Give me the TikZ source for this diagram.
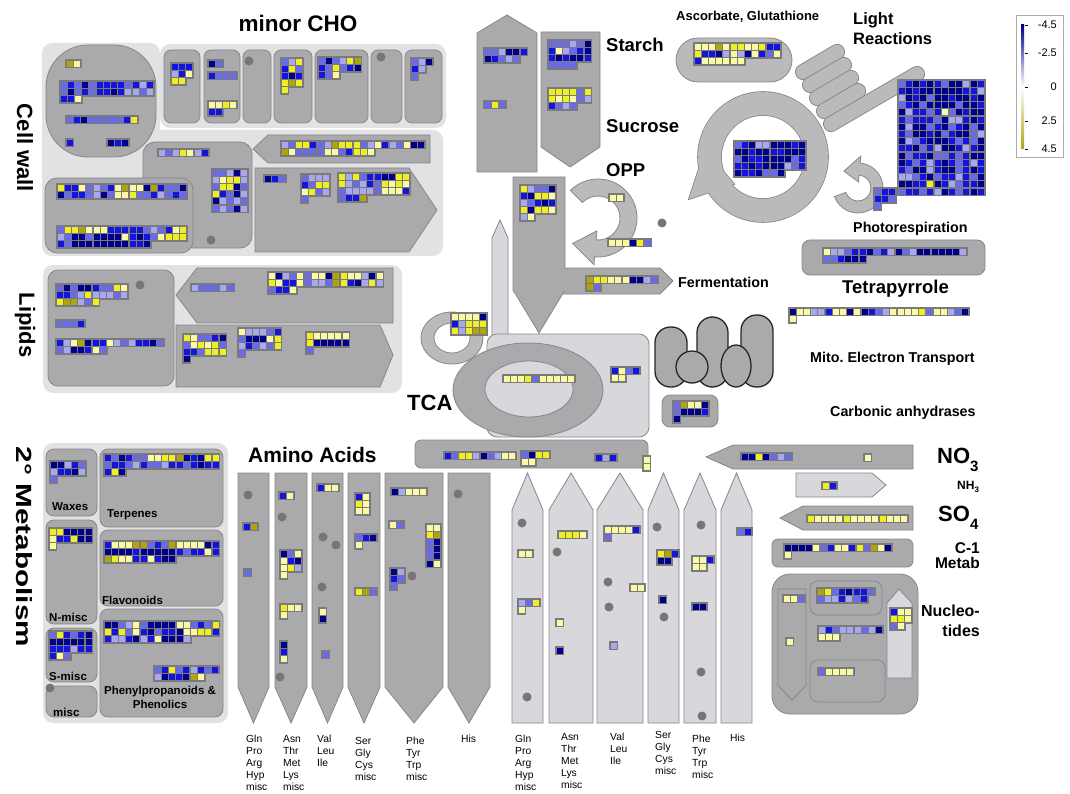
\documentclass[tikz,border=0pt]{standalone}
\usepackage{fontspec}
\setmainfont{Liberation Sans}
\usepackage{graphicx}
\usetikzlibrary{calc}

\definecolor{boxgray}{RGB}{170,170,172}
\definecolor{edgegray}{RGB}{135,135,138}
\definecolor{panelgray}{RGB}{226,226,229}
\definecolor{lightgray2}{RGB}{216,216,220}
\definecolor{ringgray}{RGB}{186,186,189}
\definecolor{framegray}{RGB}{122,122,122}
\definecolor{dotgray}{RGB}{118,118,118}
\definecolor{hma}{RGB}{0,0,140}
\definecolor{hmb}{RGB}{20,20,225}
\definecolor{hmc}{RGB}{105,105,235}
\definecolor{hmd}{RGB}{168,168,240}
\definecolor{hmw}{RGB}{250,250,165}
\definecolor{hmy}{RGB}{238,238,35}
\definecolor{hmo}{RGB}{175,165,10}

% heat map blocks: \hm{x}{y}{row,row,...}, one letter per cell
\newcount\hmcol
\newcommand\hmpass{0}
\newcommand\hm[3]{%
  \def\hmx{#1}\def\hmy{#2}%
  \renewcommand\hmpass{0}\hmrows{#3}%
  \renewcommand\hmpass{1}\hmrows{#3}}
\newcommand\hmrows[1]{%
  \foreach \hmrow [count=\hmj from 0] in {#1}{%
    \global\hmcol=0 \expandafter\hmloop\hmrow\relax}}
\def\hmloop#1{\ifx#1\relax\else\hmcell#1\global\advance\hmcol by 1 \expandafter\hmloop\fi}
\def\hmcell#1{%
  \ifnum\hmpass=0
    \fill[framegray] (\hmx+\the\hmcol*7.2-1.2,\hmy+\hmj*7.2-1.2) rectangle ++(9.6,9.6);
  \else
    \fill[hm#1] (\hmx+\the\hmcol*7.2+0.6,\hmy+\hmj*7.2+0.6) rectangle ++(6,6);
  \fi}
\newcommand\hmdot[2]{\fill[dotgray] (#1,#2) circle[radius=4.5pt];}

\begin{document}
\begin{tikzpicture}[x=1pt,y=-1pt,
    box/.style={fill=boxgray, draw=edgegray, line width=0.8pt},
    panel/.style={fill=panelgray},
    lightbox/.style={fill=lightgray2, draw=edgegray, line width=0.8pt},
    ringbox/.style={fill=ringgray, draw=edgegray, line width=0.8pt},
    mito/.style={fill=boxgray, draw=black!85, line width=1.3pt},
    biglab/.style={font=\bfseries\fontsize{22}{24}\selectfont, inner sep=0pt},
    midlab/.style={font=\bfseries\fontsize{18.5}{20}\selectfont, inner sep=0pt},
    lab/.style={font=\bfseries\fontsize{14.3}{16}\selectfont, inner sep=0pt},
    smalllab/.style={font=\bfseries\fontsize{11.5}{14}\selectfont, inner sep=0pt},
    aalab/.style={font=\fontsize{10.3}{12}\selectfont, align=left, anchor=north west, inner sep=0pt}
]
\useasboundingbox (0,0) rectangle (1070,794);

% cell wall and minor CHO
\fill[panel, rounded corners=10pt] (42,43) rectangle (160,256);
\fill[panel, rounded corners=10pt] (42,130) rectangle (443,256);
\fill[panel, rounded corners=10pt] (160,44) rectangle (446,128);
\foreach \xa/\xb in {164/200, 204/240, 243/271, 274/312, 315/368, 371/402, 405/442}
  \draw[box, rounded corners=7pt] (\xa,50) rectangle (\xb,123);
\draw[box, rounded corners=42pt] (46,45) rectangle (156,157);
\draw[box, rounded corners=12pt] (143,142) rectangle (252,248);
\draw[box, rounded corners=12pt] (45,178) rectangle (193,253);
\draw[box] (253,149) -- (268,135) -- (430,135) -- (430,163) -- (268,163) -- cycle;
\draw[box] (255,168) -- (409,168) -- (437,210) -- (409,252) -- (255,252) -- cycle;

% lipids
\fill[panel, rounded corners=10pt] (43,265) rectangle (402,393);
\draw[box, rounded corners=10pt] (48,270) rectangle (174,386);
\draw[box] (176,295) -- (197,268) -- (393,268) -- (393,323) -- (197,323) -- cycle;
\draw[box] (176,325) -- (380,325) -- (393,355) -- (380,387) -- (176,387) -- cycle;

% secondary metabolism
\fill[panel, rounded corners=10pt] (43,443) rectangle (228,723);
\draw[box, rounded corners=8pt] (46,449) rectangle (97,516);
\draw[box, rounded corners=8pt] (100,449) rectangle (223,527);
\draw[box, rounded corners=8pt] (46,520) rectangle (97,624);
\draw[box, rounded corners=8pt] (100,530) rectangle (223,606);
\draw[box, rounded corners=8pt] (46,628) rectangle (97,682);
\draw[box, rounded corners=8pt] (46,686) rectangle (97,717);
\draw[box, rounded corners=8pt] (100,609) rectangle (223,717);

% starch, sucrose, glycolysis
\draw[box] (477,33) -- (507,15) -- (537,33) -- (537,172) -- (477,172) -- cycle;
\draw[box] (541,32) -- (600,32) -- (600,147) -- (570,167) -- (541,147) -- cycle;
\draw[lightbox] (492,345) -- (492,238) -- (500,220) -- (508,238) -- (508,345);
\draw[box] (560,268) -- (660,268) -- (673,281) -- (660,294) -- (560,294) -- cycle;

% TCA
\draw[lightbox, rounded corners=10pt] (487,334) rectangle (649,437);
\draw[box] (513,177) -- (565,177) -- (565,290) -- (539,333) -- (513,290) -- cycle;
\fill[boxgray] (564,268.6) rectangle (567,293.4);
\draw[ringbox, even odd rule] (452,338) ellipse[x radius=31pt, y radius=26pt]
  (452,338) ellipse[x radius=18pt, y radius=15pt];
\draw[box] (528,390) ellipse[x radius=75pt, y radius=47pt];
\draw[lightbox] (529,389) ellipse[x radius=44pt, y radius=28pt];
\draw[box, rounded corners=6pt] (415,440) rectangle (648,468);

% OPP
\coordinate (oppc) at (598,218);
\draw[ringbox] ($(oppc)+(135:39pt)$) arc[start angle=135, end angle=-95, radius=39pt]
  -- ($(oppc)+(-95:47pt)$) -- ($(oppc)+(-135:36pt)$) -- ($(oppc)+(-95:13pt)$)
  -- ($(oppc)+(-95:22pt)$) arc[start angle=-95, end angle=135, radius=22pt] -- cycle;

% ascorbate, calvin cycle, light reactions
\draw[ringbox, rounded corners=22pt] (676,38) rectangle (792,82);
\draw[edgegray, line width=1.6pt] (763,157) circle[radius=65pt] (763,157) circle[radius=42pt];
\draw[edgegray, line width=1.6pt] (689,199) -- (705,150) -- (734,184) -- cycle;
\fill[ringgray, even odd rule] (763,157) circle[radius=65pt] (763,157) circle[radius=42pt];
\fill[ringgray] (689,199) -- (705,150) -- (734,184) -- cycle;
\foreach \k in {0,...,3} {
  \draw[edgegray, line width=16pt, line cap=round] (803+7*\k,72+13*\k) -- ++(34,-20);
  \draw[ringgray, line width=14.2pt, line cap=round] (803+7*\k,72+13*\k) -- ++(34,-20);
}
\draw[edgegray, line width=16pt, line cap=round] (831,124) -- (917,74);
\draw[ringgray, line width=14.2pt, line cap=round] (831,124) -- (917,74);
\coordinate (prc) at (858,188);
\draw[ringbox] ($(prc)+(-160:25pt)$) arc[start angle=-160, end angle=85, radius=25pt]
  -- ($(prc)+(85:32pt)$) -- ($(prc)+(130:22pt)$) -- ($(prc)+(85:6pt)$)
  -- ($(prc)+(85:13pt)$) arc[start angle=85, end angle=-160, radius=13pt] -- cycle;
\draw[box, rounded corners=8pt] (802,240) rectangle (985,275);

% mitochondria, carbonic anhydrases
\draw[mito, rounded corners=15.5pt] (655,327) rectangle (687,387);
\draw[mito, rounded corners=15.5pt] (697,317) rectangle (728,387);
\draw[mito, rounded corners=15.5pt] (741,315) rectangle (773,387);
\draw[mito] (692,367) circle[radius=16pt];
\draw[mito] (736,366) ellipse[x radius=15pt, y radius=21pt];
\draw[box, rounded corners=8pt] (662,395) rectangle (718,427);

% N, S, C-1, nucleotides
\draw[box] (706,457) -- (733,445) -- (913,445) -- (913,469) -- (733,469) -- cycle;
\draw[lightbox] (796,473) -- (872,473) -- (886,485) -- (872,497) -- (796,497) -- cycle;
\draw[box] (780,518) -- (803,506) -- (913,506) -- (913,530) -- (803,530) -- cycle;
\draw[box, rounded corners=6pt] (772,539) rectangle (913,567);
\draw[box, rounded corners=18pt] (772,574) rectangle (918,714);
\draw[box] (778,589) -- (806,589) -- (806,685) -- (792,700) -- (778,685) -- cycle;
\draw[box, rounded corners=8pt] (810,581) rectangle (882,615);
\draw[box, rounded corners=8pt] (810,660) rectangle (885,702);
\draw[lightbox] (887,678) -- (887,603) -- (899,589) -- (912,603) -- (912,678) -- cycle;

% amino acids
\foreach \xa/\xb in {238/269, 275/307, 312/343, 348/380, 385/443, 448/490}
  \draw[box] (\xa,473) -- (\xb,473) -- (\xb,687) -- ({(\xa+\xb)/2},723) -- (\xa,687) -- cycle;
\foreach \xa/\xb in {512/543, 549/593, 597/643, 648/679, 684/716, 721/752}
  \draw[lightbox] (\xa,723) -- (\xa,510) -- ({(\xa+\xb)/2},473) -- (\xb,510) -- (\xb,723) -- cycle;

% heat map cells
\hm{66}{60}{ow}
\hm{60}{81}{cbcacbbbbcbdb,cacbcbbabddcd,bbw}
\hm{66}{116}{cbacccccby}
\hm{66}{139}{b}
\hm{107}{139}{aba}
\hm{57}{184}{ybbwcdcbwowwaobcca,acbbcdacwwyccbdcbc}
\hm{57}{226}{cyyowwwbbbbbcdcbwy,dcaacaaaawbabcwyyy,bcaaaaaaaabba}
\hm{158}{149}{dcdywdb}
\hm{212}{169}{ccdad,dwyyd,cyyac,ybcad,adcdc,cdcad}
\hm{281}{141}{dcyybcdoyyycdwbdcwaa,owccccwwcbyyw}
\hm{264}{175}{abc}
\hm{301}{174}{cddd,bcyy,wycd,c}
\hm{338}{173}{ydycbbaayy,ydcdbcywyw,cddddcwwwb,cbbo}
\hm{171}{63}{bbb,dbw,yy}
\hm{208}{60}{ac}
\hm{208}{72}{bccc}
\hm{208}{101}{wwyw,bb}
\hm{281}{58}{cdy,byc,bab,yoy,y}
\hm{318}{57}{cacdyo,bcycba,bcw}
\hm{411}{58}{cda,bd,c}
\hm{56}{284}{cacaabccyw,bbcdydddcd,yoodcy}
\hm{56}{320}{cccb}
\hm{56}{339}{bdwoabbwdcdbbac,cdaabwc}
\hm{191}{284}{dcccdc}
\hm{268}{272}{wadcwcwwaoywwdaw,ywbbwcddcoybadyd,cbbw}
\hm{183}{334}{ywccba,cwywyc,bbcyyy,a}
\hm{238}{328}{wdddcb,caaawy,dbcdcy,c}
\hm{306}{332}{ywwwww,yaaaaa,c}
\hm{50}{461}{aadbc,dbbad,c}
\hm{104}{454}{bcabccwwyyoabayy,cbbcdbccdbbcbabb,bya}
\hm{49}{528}{yyaaaa,wbbyaa,w}
\hm{104}{541}{bwwwoocbcowwwwab,aaaabaaaaabcbbwb,oywwbbwbaa}
\hm{49}{631}{cybcba,aaaaaa,bbbdbb,bwc}
\hm{104}{621}{aacdwcaaaawwcbcy,ybycwbacbbawwyyb,bddbadbwaaad}
\hm{154}{666}{cbycbdbcb,dabbaow}
\hm{694}{43}{wwwowyywwybb,ybbadwdawbcw,bwwwwww}
\hm{484}{48}{ccdaab,abcdc}
\hm{484}{101}{cyc}
\hm{548}{40}{cccdca,bwdcba,babaab,cccc}
\hm{548}{88}{yyyycy,ywywcd,bcdc}
\hm{520}{185}{ydcca,bayyw,dcbab,yayyw,dw}
\hm{609}{194}{ww}
\hm{608}{239}{wwwayc}
\hm{586}{276}{oyywwwaadc,oc}
\hm{451}{313}{wwwwa,bdyyy,ydyoo}
\hm{503}{375}{wwwycwwwww}
\hm{611}{367}{bwcb,ww}
\hm{673}{401}{cowwa,caaab,a}
\hm{734}{141}{cbaddaaaba,aabaabbaaa,cabbaaaacb,bbabaaadcb,abbacca}
\hm{898}{80}{cbababcaadab,babaaaaaabbd,dabacaabaaba,cbacaaaacaab,adbbcbwcabaa,bcbbbcaddbab,adaacbacbaca,bcaabacbaacd,adcbaaabcbca,bbacbdaabdba,acbbaccbcbaa,abcbdbabcbdb,bcaadbaacbab,ddcbacbbdbca,aabbyabdcbba,cbbcbdabcbab}
\hm{874}{188}{cbb,bbc,c}
\hm{823}{248}{wddcbbacbdacdaaaaaad,ccbaaa}
\hm{789}{308}{awwddbwwawabcdwwwwycwwdca,w}
\hm{444}{452}{bcyydacdww}
\hm{521}{451}{cayy,ww}
\hm{595}{454}{bdb}
\hm{643}{456}{w,w}
\hm{741}{453}{aayacdc}
\hm{864}{454}{w}
\hm{822}{482}{yb}
\hm{807}{515}{ywwwwywwwwywww}
\hm{784}{544}{aaaawcbwwbycowa,w}
\hm{783}{595}{wwc}
\hm{786}{638}{w}
\hm{817}{588}{oycbabbc,cddbdcb}
\hm{890}{608}{bww,yyw,cw}
\hm{818}{626}{dbcdddcda,www}
\hm{818}{668}{cwwww}
\hm{243}{523}{bo}
\hm{244}{569}{c}
\hm{279}{492}{bw}
\hm{280}{550}{acw,wba,wyd,w}
\hm{280}{604}{yww,w}
\hm{280}{641}{a,b,w}
\hm{317}{484}{bww}
\hm{319}{608}{w,a}
\hm{322}{651}{c}
\hm{355}{493}{bw,yw,ww}
\hm{355}{534}{cba,w}
\hm{355}{588}{yoc}
\hm{391}{488}{adwww}
\hm{389}{521}{wc}
\hm{426}{524}{ww,yo,ca,ca,ca,aw}
\hm{390}{568}{ad,bc,c}
\hm{518}{550}{ww}
\hm{518}{599}{dcy,w}
\hm{558}{531}{yyyw}
\hm{556}{619}{w}
\hm{556}{647}{a}
\hm{604}{526}{wwwwb,c}
\hm{630}{584}{ww}
\hm{610}{642}{d}
\hm{657}{550}{yob,aa}
\hm{659}{596}{a}
\hm{692}{556}{wwb,ww}
\hm{692}{603}{aa}
\hm{737}{528}{cb}

% unmapped bins
\hmdot{211}{240} \hmdot{249}{61} \hmdot{381}{57} \hmdot{140}{285} \hmdot{662}{223}
\hmdot{50}{688} \hmdot{248}{495} \hmdot{282}{517} \hmdot{280}{677} \hmdot{323}{537}
\hmdot{336}{545} \hmdot{322}{587} \hmdot{412}{576} \hmdot{458}{494} \hmdot{522}{523}
\hmdot{527}{697} \hmdot{557}{552} \hmdot{608}{582} \hmdot{609}{607} \hmdot{657}{527}
\hmdot{664}{617} \hmdot{701}{525} \hmdot{701}{672} \hmdot{702}{716}

% legend
\draw[edgegray!70, fill=white] (1016,15) rectangle (1063,157);
\shade[top color=hma, bottom color=white] (1021,25) rectangle (1024,87);
\shade[top color=white, bottom color=hmo] (1021,87) rectangle (1024,149);
\foreach \yy/\tt [count=\i] in {25/-4.5, 53/-2.5, 87/0, 121/2.5, 149/4.5} {
  \draw (1025,\yy) -- (1028,\yy);
  \node[anchor=east, inner sep=0pt, font=\fontsize{11}{12}\selectfont] (leg\i) at (1057,\yy) {\tt};
}

% labels
\node[font=\bfseries\fontsize{22.5}{26}\selectfont, inner sep=0pt] (minorcho) at (298,23) {minor CHO};
\node[biglab, rotate=-90] (cellwall) at (25,148) {Cell wall};
\node[biglab, rotate=-90] (lipids) at (25,325) {Lipids};
\node[biglab, rotate=-90] (secmet) at (24,547) {\scalebox{1.35}[1]{2° Metabolism}};
\node[midlab, anchor=west] (starch) at (606,45) {Starch};
\node[midlab, anchor=west] (sucrose) at (606,126) {Sucrose};
\node[midlab, anchor=west] (opp) at (606,170) {OPP};
\node[font=\bfseries\fontsize{13}{15}\selectfont, anchor=west, inner sep=0pt] (ascorb) at (676,17) {Ascorbate, Glutathione};
\node[font=\bfseries\fontsize{16.5}{20}\selectfont, anchor=north west, align=left, inner sep=0pt] (light) at (853,12) {Light\\Reactions};
\node[lab, anchor=west] (photoresp) at (853,229) {Photorespiration};
\node[midlab, anchor=west] (tetra) at (842,289) {Tetrapyrrole};
\node[lab, anchor=west] (ferment) at (678,282) {Fermentation};
\node[lab, anchor=west] (mitoet) at (810,359) {Mito.\ Electron Transport};
\node[lab, anchor=west] (carbanh) at (830,413) {Carbonic anhydrases};
\node[biglab, anchor=west] (tca) at (407,403) {TCA};
\node[font=\bfseries\fontsize{21}{24}\selectfont, anchor=west, inner sep=0pt] (aminoacids) at (248,455) {Amino Acids};
\node[biglab, anchor=west] (no3) at (937,460) {NO\raisebox{-0.35em}{\fontsize{15}{15}\selectfont 3}};
\node[font=\bfseries\fontsize{12}{14}\selectfont, anchor=west, inner sep=0pt] (nh3) at (957,487) {NH\raisebox{-0.25em}{\fontsize{8}{8}\selectfont 3}};
\node[biglab, anchor=west] (so4) at (938,518) {SO\raisebox{-0.35em}{\fontsize{15}{15}\selectfont 4}};
\node[font=\bfseries\fontsize{15.5}{15}\selectfont, anchor=east, align=right, inner sep=0pt] (c1metab) at (980,556) {C-1\\Metab};
\node[font=\bfseries\fontsize{16}{20}\selectfont, anchor=east, align=right, inner sep=0pt] (nucleo) at (980,621) {Nucleo-\\tides};
\node[smalllab, anchor=west] (waxes) at (52,507) {Waxes};
\node[smalllab, anchor=west] (terpenes) at (107,515) {Terpenes};
\node[smalllab, anchor=west] (nmisc) at (49,617) {N-misc};
\node[smalllab, anchor=west] (flavonoids) at (102,600) {Flavonoids};
\node[smalllab, anchor=west] (smisc) at (49,676) {S-misc};
\node[smalllab, anchor=west] (misc) at (53,712) {misc};
\node[smalllab, align=center] (phenyl) at (160,697) {Phenylpropanoids \&\\Phenolics};

\node[aalab] (aa1) at (246,735) {Gln\\Pro\\Arg\\Hyp\\misc};
\node[aalab] (aa2) at (283,735) {Asn\\Thr\\Met\\Lys\\misc};
\node[aalab] (aa3) at (317,735) {Val\\Leu\\Ile};
\node[aalab] (aa4) at (355,737) {Ser\\Gly\\Cys\\misc};
\node[aalab] (aa5) at (406,737) {Phe\\Tyr\\Trp\\misc};
\node[aalab] (aa6) at (461,735) {His};
\node[aalab] (aa7) at (515,735) {Gln\\Pro\\Arg\\Hyp\\misc};
\node[aalab] (aa8) at (561,733) {Asn\\Thr\\Met\\Lys\\misc};
\node[aalab] (aa9) at (610,733) {Val\\Leu\\Ile};
\node[aalab] (aa10) at (655,731) {Ser\\Gly\\Cys\\misc};
\node[aalab] (aa11) at (692,735) {Phe\\Tyr\\Trp\\misc};
\node[aalab] (aa12) at (730,734) {His};
\end{tikzpicture}
\end{document}
